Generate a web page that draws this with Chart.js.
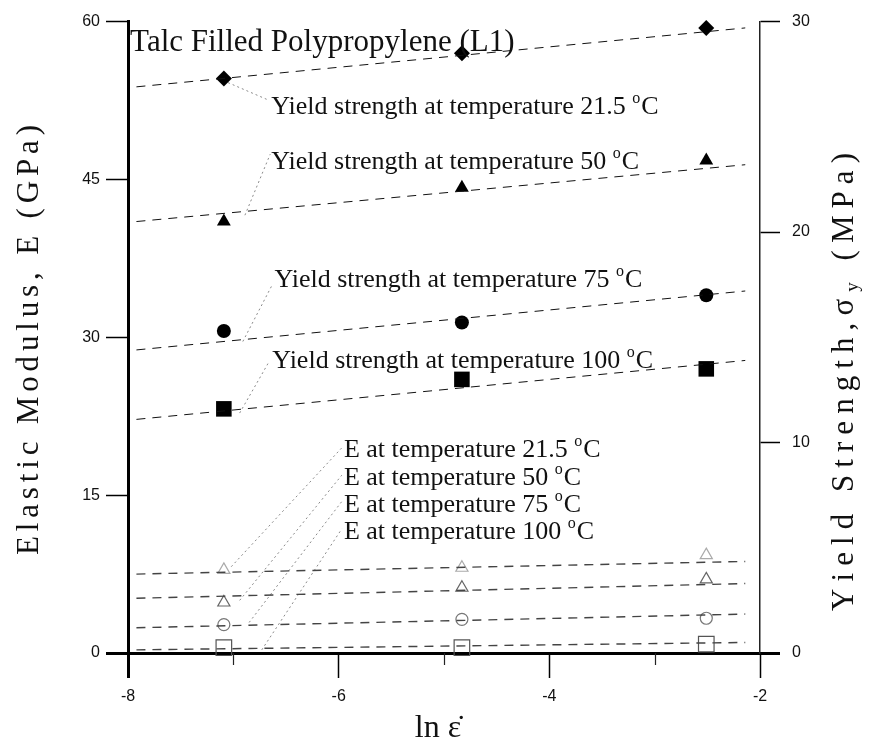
<!DOCTYPE html>
<html>
<head>
<meta charset="utf-8">
<script src="https://cdn.jsdelivr.net/npm/chart.js@4/dist/chart.umd.min.js"></script>
<style>
  html, body { margin: 0; padding: 0; background: #fff; }
  #wrap { width: 869px; height: 743px; position: relative; }
</style>
</head>
<body>
<div id="wrap"><canvas id="chartTalc"></canvas></div>
<script>
// ln of strain rate for the three tests
const lnRate = [-7.09, -4.83, -2.51];
// x range of the fitted dashed lines
const fitX = [-7.92, -2.14];

// yield strength, MPa (right axis)
const yield215 = [27.3, 28.5, 29.7];
const yield50 = [20.5, 22.1, 23.4];
const yield75 = [15.3, 15.7, 17.0];
const yield100 = [11.6, 13.0, 13.5];

const yieldFit215 = [26.9, 29.7];
const yieldFit50 = [20.5, 23.2];
const yieldFit75 = [14.4, 17.2];
const yieldFit100 = [11.1, 13.9];

// elastic modulus, GPa (left axis)
const modulus215 = [7.9, 8.1, 9.3];
const modulus50 = [4.8, 6.2, 7.0];
const modulus75 = [2.7, 3.2, 3.3];
const modulus100 = [0.5, 0.5, 0.85];

const modulusFit215 = [7.5, 8.7];
const modulusFit50 = [5.2, 6.6];
const modulusFit75 = [2.4, 3.7];
const modulusFit100 = [0.3, 1.0];

// tick labels
const xTicks = [-8, -6, -4, -2];
const xMinorTicks = [-7, -5, -3];
const modulusTicks = [0, 15, 30, 45, 60];
const yieldTicks = [0, 10, 20, 30];

const SERIF = '"Liberation Serif", "Times New Roman", serif';

const pts = ys => lnRate.map((x, i) => ({ x: x, y: ys[i] }));
const fit = ys => fitX.map((x, i) => ({ x: x, y: ys[i] }));

function markers(data, axis, style, radius, filled, color) {
    return {
        data: pts(data),
        yAxisID: axis,
        showLine: false,
        pointStyle: style,
        pointRadius: radius,
        pointBackgroundColor: filled ? color : 'rgba(0,0,0,0)',
        pointBorderColor: color,
        pointBorderWidth: filled ? 0 : 1.2,
        clip: false
    };
}

function fitLine(data, axis, color, width) {
    return {
        type: 'line',
        data: fit(data),
        yAxisID: axis,
        showLine: true,
        borderColor: color,
        borderWidth: width,
        borderDash: [9, 7],
        pointRadius: 0,
        fill: false,
        clip: false
    };
}

// text labels inside the plot, placed in data units (x, modulus axis)
const notes = [
    { text: 'Talc Filled Polypropylene (L1)', x: -7.98, y: 57.2, size: 31 },
    { text: 'Yield strength at temperature 21.5 ', deg: true, x: -6.64, y: 51.2, size: 26 },
    { text: 'Yield strength at temperature 50 ', deg: true, x: -6.64, y: 46.0, size: 26 },
    { text: 'Yield strength at temperature 75 ', deg: true, x: -6.61, y: 34.8, size: 26 },
    { text: 'Yield strength at temperature 100 ', deg: true, x: -6.63, y: 27.1, size: 26 },
    { text: 'E at temperature 21.5 ', deg: true, x: -5.95, y: 18.6, size: 26 },
    { text: 'E at temperature 50 ', deg: true, x: -5.95, y: 16.0, size: 26 },
    { text: 'E at temperature 75 ', deg: true, x: -5.95, y: 13.4, size: 26 },
    { text: 'E at temperature 100 ', deg: true, x: -5.95, y: 10.8, size: 26 }
];

// dotted leader lines from the data to the labels
const leaders = [
    [-7.05, 54.2, -6.68, 52.6],
    [-6.89, 41.6, -6.65, 47.4],
    [-6.91, 29.6, -6.63, 35.0],
    [-6.94, 22.8, -6.66, 27.7],
    [-7.02, 8.2, -5.97, 19.5],
    [-6.94, 5.0, -5.97, 16.9],
    [-6.85, 2.9, -5.97, 14.4],
    [-6.73, 0.3, -5.97, 11.8]
];

function spacedText(ctx, parts, cx, cy, length) {
    // lay the characters out evenly so the title spans the given length
    let natural = 0, count = 0;
    parts.forEach(p => {
        ctx.font = p.size + 'px ' + SERIF;
        for (const ch of p.t) { natural += ctx.measureText(ch).width; count++; }
    });
    const gap = (length - natural) / (count - 1);
    let x = -length / 2;
    ctx.save();
    ctx.translate(cx, cy);
    ctx.rotate(-Math.PI / 2);
    ctx.textBaseline = 'middle';
    parts.forEach(p => {
        ctx.font = p.size + 'px ' + SERIF;
        for (const ch of p.t) {
            ctx.fillText(ch, x, p.dy || 0);
            x += ctx.measureText(ch).width + gap;
        }
    });
    ctx.restore();
}

const decorPlugin = {
    id: 'decor',
    beforeDatasetsDraw(chart) {
        const ctx = chart.ctx, sx = chart.scales.x, sy = chart.scales.y;
        ctx.save();
        ctx.strokeStyle = '#8a8a8a';
        ctx.lineWidth = 1;
        ctx.setLineDash([2, 3]);
        leaders.forEach(l => {
            ctx.beginPath();
            ctx.moveTo(sx.getPixelForValue(l[0]), sy.getPixelForValue(l[1]));
            ctx.lineTo(sx.getPixelForValue(l[2]), sy.getPixelForValue(l[3]));
            ctx.stroke();
        });
        ctx.restore();
    },
    afterDraw(chart) {
        const ctx = chart.ctx, sx = chart.scales.x, sy = chart.scales.y;
        ctx.save();
        ctx.fillStyle = '#111';

        // minor ticks on the x axis
        ctx.strokeStyle = '#222';
        ctx.lineWidth = 1.2;
        xMinorTicks.forEach(v => {
            const px = Math.round(sx.getPixelForValue(v)) + 0.5;
            ctx.beginPath();
            ctx.moveTo(px, sx.top);
            ctx.lineTo(px, sx.top + 12);
            ctx.stroke();
        });

        // labels
        ctx.textBaseline = 'alphabetic';
        ctx.textAlign = 'left';
        notes.forEach(n => {
            const px = sx.getPixelForValue(n.x), py = sy.getPixelForValue(n.y);
            ctx.font = n.size + 'px ' + SERIF;
            ctx.fillText(n.text, px, py);
            if (n.deg) {
                let w = ctx.measureText(n.text).width;
                ctx.font = Math.round(n.size * 0.62) + 'px ' + SERIF;
                ctx.fillText('o', px + w, py - n.size * 0.42);
                w += ctx.measureText('o').width + 1;
                ctx.font = n.size + 'px ' + SERIF;
                ctx.fillText('C', px + w, py);
            }
        });

        // axis titles
        spacedText(ctx, [{ t: 'Elastic Modulus, E (GPa)', size: 31 }], 30, 340, 430);
        spacedText(ctx, [
            { t: 'Yield Strength,σ', size: 31 },
            { t: 'y', size: 19, dy: 8 },
            { t: ' (MPa)', size: 31 }
        ], 845, 382, 458);

        ctx.font = '32px ' + SERIF;
        ctx.textAlign = 'center';
        ctx.fillText('ln ε\u0307', 438, 737);
        ctx.restore();
    }
};

const thick = v => (v === 0 || v === -8) ? 3 : 1.5;

Chart.defaults.font.family = '"Liberation Sans", Arial, sans-serif';

const talcChart = new Chart(document.getElementById('chartTalc'), {
    type: 'scatter',
    data: {
        datasets: [
            fitLine(yieldFit215, 'y1', '#111', 1),
            fitLine(yieldFit50, 'y1', '#111', 1),
            fitLine(yieldFit75, 'y1', '#111', 1),
            fitLine(yieldFit100, 'y1', '#111', 1),
            fitLine(modulusFit215, 'y', '#444', 1.4),
            fitLine(modulusFit50, 'y', '#444', 1.4),
            fitLine(modulusFit75, 'y', '#444', 1.4),
            fitLine(modulusFit100, 'y', '#444', 1.4),
            markers(yield215, 'y1', 'rectRot', 8, true, '#000'),
            markers(yield50, 'y1', 'triangle', 8, true, '#000'),
            markers(yield75, 'y1', 'circle', 7, true, '#000'),
            markers(yield100, 'y1', 'rect', 11, true, '#000'),
            markers(modulus215, 'y', 'triangle', 7, false, '#aaa'),
            markers(modulus50, 'y', 'triangle', 7, false, '#666'),
            markers(modulus75, 'y', 'circle', 6, false, '#777'),
            markers(modulus100, 'y', 'rect', 11, false, '#555')
        ]
    },
    options: {
        responsive: true,
        maintainAspectRatio: false,
        animation: false,
        devicePixelRatio: 1,
        layout: { padding: { top: 19, left: 0, right: 0, bottom: 0 } },
        plugins: {
            legend: { display: false },
            tooltip: { enabled: false }
        },
        scales: {
            x: {
                type: 'linear',
                min: -8,
                max: -2,
                afterBuildTicks: s => { s.ticks = xTicks.map(v => ({ value: v })); },
                afterFit: s => { s.height = 90; },
                ticks: { color: '#111', font: { size: 16 }, padding: 9 },
                grid: {
                    drawOnChartArea: false,
                    tickLength: 25,
                    tickColor: '#000',
                    tickWidth: c => thick(c.tick && c.tick.value)
                },
                border: { color: '#000', width: 3 }
            },
            y: {
                type: 'linear',
                position: 'left',
                min: 0,
                max: 60,
                afterBuildTicks: s => { s.ticks = modulusTicks.map(v => ({ value: v })); },
                afterFit: s => { s.width = 128; },
                ticks: { color: '#111', font: { size: 16 }, padding: 6 },
                grid: {
                    drawOnChartArea: false,
                    tickLength: 22,
                    tickColor: '#000',
                    tickWidth: c => thick(c.tick && c.tick.value)
                },
                border: { color: '#000', width: 3 }
            },
            y1: {
                type: 'linear',
                position: 'right',
                min: 0,
                max: 30,
                afterBuildTicks: s => { s.ticks = yieldTicks.map(v => ({ value: v })); },
                afterFit: s => { s.width = 109; },
                ticks: { color: '#111', font: { size: 16 }, padding: 12 },
                grid: {
                    drawOnChartArea: false,
                    tickLength: 20,
                    tickColor: '#000',
                    tickWidth: c => (c.tick && c.tick.value === 0) ? 3 : 1.5
                },
                border: { color: '#222', width: 1.5 }
            }
        }
    },
    plugins: [decorPlugin]
});
</script>
</body>
</html>
